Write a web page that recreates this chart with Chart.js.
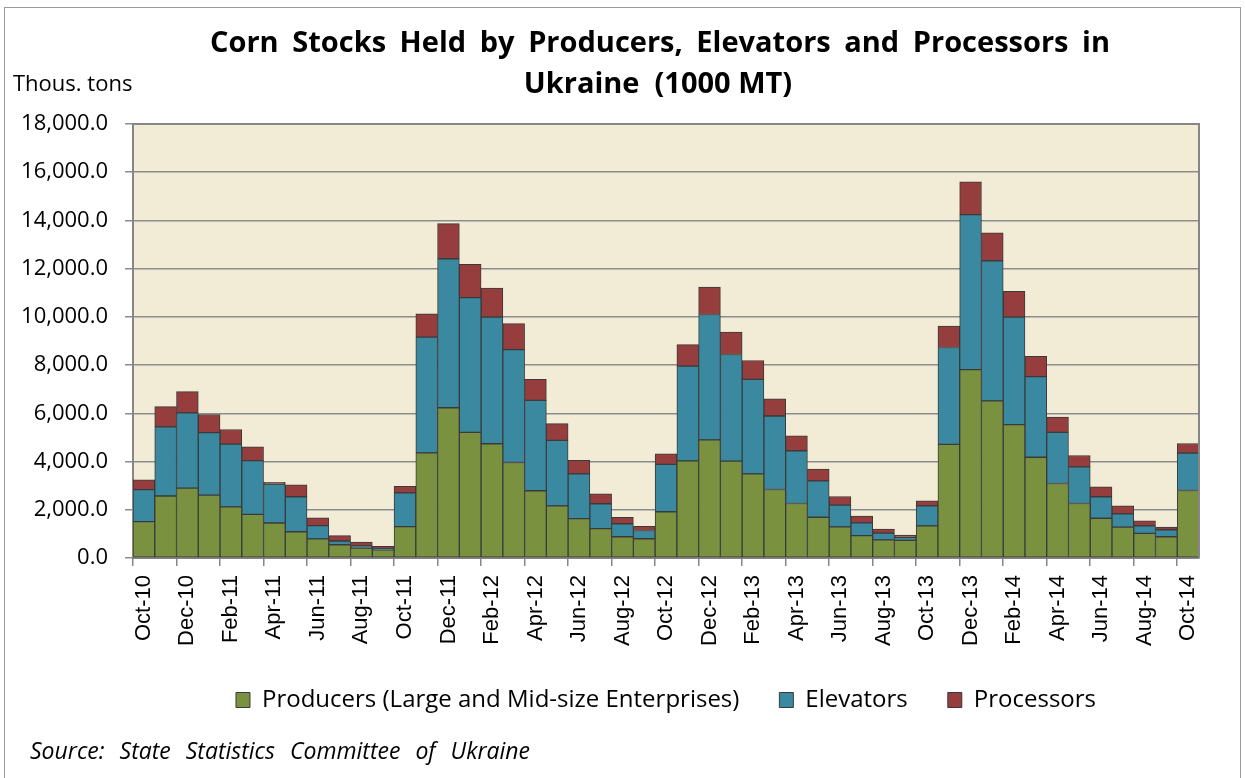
<!DOCTYPE html>
<html>
<head>
<meta charset="utf-8">
<script src="https://cdn.jsdelivr.net/npm/chart.js@4/dist/chart.umd.min.js"></script>
<style>
  html, body { margin: 0; padding: 0; background: #ffffff; }
  #wrap { width: 1245px; height: 778px; position: relative; }
</style>
</head>
<body>
<div id="wrap"><canvas id="c" width="1245" height="778"></canvas></div>
<script>
const categories = [
  'Oct-10','Nov-10','Dec-10','Jan-11','Feb-11','Mar-11','Apr-11','May-11','Jun-11','Jul-11','Aug-11','Sep-11',
  'Oct-11','Nov-11','Dec-11','Jan-12','Feb-12','Mar-12','Apr-12','May-12','Jun-12','Jul-12','Aug-12','Sep-12',
  'Oct-12','Nov-12','Dec-12','Jan-13','Feb-13','Mar-13','Apr-13','May-13','Jun-13','Jul-13','Aug-13','Sep-13',
  'Oct-13','Nov-13','Dec-13','Jan-14','Feb-14','Mar-14','Apr-14','May-14','Jun-14','Jul-14','Aug-14','Sep-14',
  'Oct-14'
];
const producers = [1510,2570,2900,2610,2120,1810,1450,1090,790,550,410,340,
  1300,4360,6230,5210,4740,3960,2790,2160,1630,1220,880,800,
  1920,4030,4900,4020,3490,2840,2260,1690,1290,930,750,730,
  1330,4710,7810,6520,5530,4180,3090,2260,1650,1280,1020,880,
  2800];
const elevators = [1325,2870,3120,2590,2600,2230,1620,1450,550,155,90,50,
  1400,4800,6180,5590,5250,4680,3750,2720,1860,1030,540,340,
  1960,3930,5200,4420,3920,3050,2190,1510,900,530,280,130,
  830,4020,6430,5810,4460,3340,2120,1520,890,550,310,290,
  1550];
const processors = [405,840,880,750,610,570,70,490,330,220,160,90,
  270,970,1460,1380,1210,1080,870,690,560,410,270,170,
  440,890,1140,930,780,710,620,490,360,280,170,90,
  210,890,1360,1160,1070,840,630,470,410,330,210,110,
  400];
const seriesNames = ['Producers (Large and Mid-size Enterprises)', 'Elevators', 'Processors'];
const yTicks = { min: 0, max: 18000, step: 2000 };
const titleLines = ['Corn  Stocks  Held  by  Producers,  Elevators  and  Processors  in', 'Ukraine  (1000 MT)'];
const unitLabel = 'Thous. tons';
const sourceText = 'Source:  State  Statistics  Committee  of  Ukraine';

const CAL = '"Open Sans", Lato, sans-serif';
const ARI = '"Liberation Sans", Arial, sans-serif';

function justify(ctx, text, x0, x1, y) {
  const words = text.split(/\s+/);
  const widths = words.map(w => ctx.measureText(w).width);
  const total = widths.reduce((a, b) => a + b, 0);
  const gap = (x1 - x0 - total) / (words.length - 1);
  let x = x0;
  ctx.textAlign = 'left';
  words.forEach((w, i) => { ctx.fillText(w, x, y); x += widths[i] + gap; });
}

const decor = {
  id: 'decor',
  beforeDraw(chart) {
    const {ctx, chartArea: a} = chart;
    ctx.save();
    ctx.fillStyle = '#ffffff';
    ctx.fillRect(0, 0, chart.width, chart.height);
    ctx.strokeStyle = '#9a9a9a';
    ctx.lineWidth = 1;
    ctx.strokeRect(4.5, 7.5, 1236, 790);
    ctx.fillStyle = '#F2ECD6';
    ctx.fillRect(a.left, a.top, a.right - a.left, a.bottom - a.top);
    ctx.restore();
  },
  afterDraw(chart) {
    const {ctx, chartArea: a} = chart;
    ctx.save();
    ctx.strokeStyle = '#868686';
    ctx.lineWidth = 2;
    ctx.beginPath();
    ctx.moveTo(a.left, a.top); ctx.lineTo(a.right, a.top); ctx.lineTo(a.right, a.bottom);
    ctx.stroke();
    ctx.fillStyle = '#000';
    ctx.textBaseline = 'middle';
    ctx.font = 'bold 29px ' + CAL;
    justify(ctx, titleLines[0], 210, 1110, 44);
    ctx.textAlign = 'center';
    ctx.fillText(titleLines[1], 658, 85);
    ctx.font = '22px ' + CAL;
    ctx.textAlign = 'left';
    ctx.fillText(unitLabel, 13, 85);
    ctx.font = 'italic 23px ' + CAL;
    justify(ctx, sourceText, 30, 530, 752);
    ctx.restore();
  }
};

const mk = (label, data, color) => ({
  label, data,
  backgroundColor: color,
  borderColor: '#3a3a3a',
  borderWidth: 1,
  borderSkipped: false
});

new Chart(document.getElementById('c'), {
  type: 'bar',
  data: {
    labels: categories,
    datasets: [
      mk(seriesNames[0], producers, '#7A9240'),
      mk(seriesNames[1], elevators, '#3B89A0'),
      mk(seriesNames[2], processors, '#963E3E')
    ]
  },
  options: {
    responsive: false,
    animation: false,
    devicePixelRatio: 1,
    layout: { padding: { top: 124, right: 46, left: 0, bottom: 56 } },
    datasets: { bar: { barPercentage: 1, categoryPercentage: 1 } },
    plugins: {
      title: { display: false },
      tooltip: { enabled: false },
      legend: {
        position: 'bottom',
        fullSize: false,
        labels: {
          color: '#000',
          font: { family: CAL, size: 24 },
          boxWidth: 14, boxHeight: 15,
          padding: 40
        }
      }
    },
    scales: {
      x: {
        stacked: true,
        offset: true,
        afterFit(s) { s.height = 90; },
        grid: {
          offset: true,
          drawOnChartArea: false,
          drawTicks: true,
          tickLength: 8,
          color: (c) => (c.index % 2 === 0 ? '#868686' : 'rgba(0,0,0,0)'),
          lineWidth: 1.5
        },
        border: { display: true, color: '#868686', width: 2 },
        ticks: {
          autoSkip: false,
          minRotation: 90, maxRotation: 90,
          padding: 9,
          color: '#000',
          font: { family: ARI, size: 22 },
          callback(v, i) { return i % 2 === 0 ? categories[i] : ''; }
        }
      },
      y: {
        stacked: true,
        min: yTicks.min, max: yTicks.max,
        afterFit(s) { s.width = 133; },
        grid: { color: '#8c8c8c', lineWidth: 1.5, tickLength: 8, drawTicks: true },
        border: { display: true, color: '#868686', width: 2 },
        ticks: {
          stepSize: yTicks.step,
          padding: 17,
          color: '#000',
          font: { family: CAL, size: 22 },
          callback(v) { return Number(v).toLocaleString('en-US', { minimumFractionDigits: 1, maximumFractionDigits: 1 }); }
        }
      }
    }
  },
  plugins: [decor]
});
</script>
</body>
</html>
